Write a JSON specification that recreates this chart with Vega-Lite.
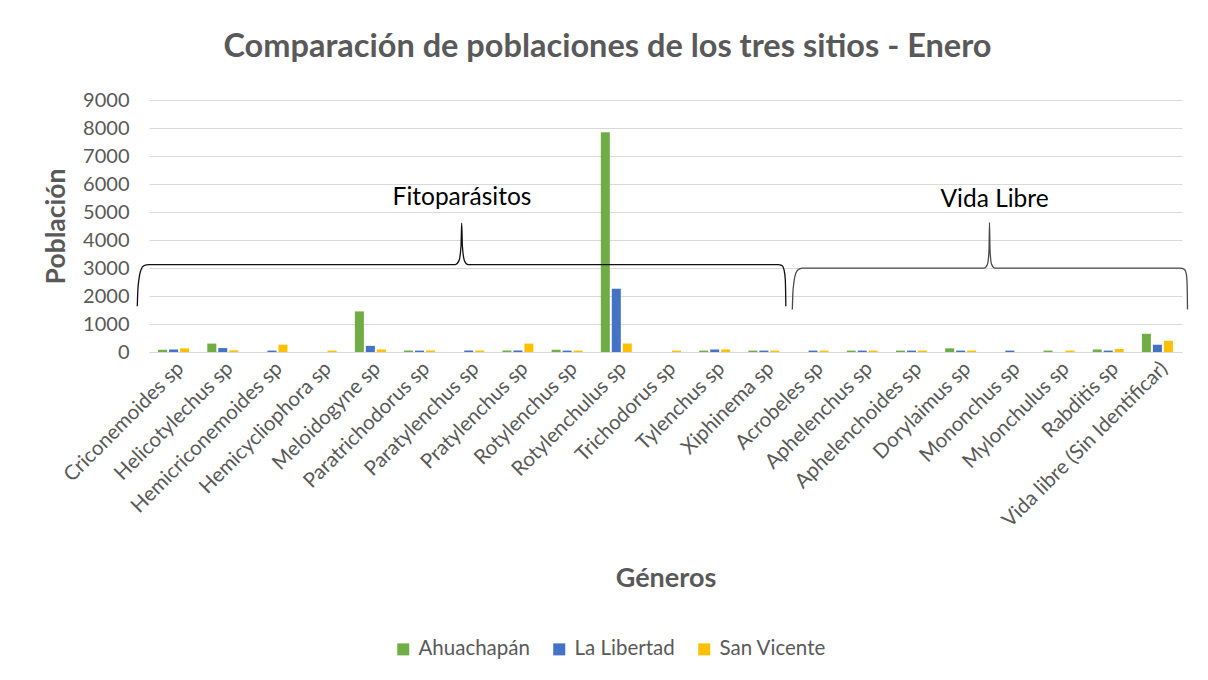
{
  "$schema": "https://vega.github.io/schema/vega-lite/v6.json",
  "width": 1033,
  "height": 252,
  "autosize": {"type": "none"},
  "padding": {"left": 149, "top": 100, "right": 26, "bottom": 328},
  "background": "white",
  "title": {
    "text": "Comparación de poblaciones de los tres sitios - Enero",
    "font": "Lato",
    "fontSize": 32.5,
    "fontWeight": "bold",
    "color": "#595959",
    "anchor": "middle",
    "dx": -58,
    "offset": 27
  },
  "datasets": {
    "bars": [
      {"genero": "Criconemoides sp", "sitio": "Ahuachapán", "poblacion": 80},
      {"genero": "Criconemoides sp", "sitio": "La Libertad", "poblacion": 90},
      {"genero": "Criconemoides sp", "sitio": "San Vicente", "poblacion": 130},
      {"genero": "Helicotylechus sp", "sitio": "Ahuachapán", "poblacion": 300},
      {"genero": "Helicotylechus sp", "sitio": "La Libertad", "poblacion": 140},
      {"genero": "Helicotylechus sp", "sitio": "San Vicente", "poblacion": 60},
      {"genero": "Hemicriconemoides sp", "sitio": "Ahuachapán", "poblacion": 0},
      {"genero": "Hemicriconemoides sp", "sitio": "La Libertad", "poblacion": 50},
      {"genero": "Hemicriconemoides sp", "sitio": "San Vicente", "poblacion": 260},
      {"genero": "Hemicycliophora sp", "sitio": "Ahuachapán", "poblacion": 0},
      {"genero": "Hemicycliophora sp", "sitio": "La Libertad", "poblacion": 0},
      {"genero": "Hemicycliophora sp", "sitio": "San Vicente", "poblacion": 50},
      {"genero": "Meloidogyne sp", "sitio": "Ahuachapán", "poblacion": 1450},
      {"genero": "Meloidogyne sp", "sitio": "La Libertad", "poblacion": 220},
      {"genero": "Meloidogyne sp", "sitio": "San Vicente", "poblacion": 90},
      {"genero": "Paratrichodorus sp", "sitio": "Ahuachapán", "poblacion": 50},
      {"genero": "Paratrichodorus sp", "sitio": "La Libertad", "poblacion": 50},
      {"genero": "Paratrichodorus sp", "sitio": "San Vicente", "poblacion": 50},
      {"genero": "Paratylenchus sp", "sitio": "Ahuachapán", "poblacion": 0},
      {"genero": "Paratylenchus sp", "sitio": "La Libertad", "poblacion": 50},
      {"genero": "Paratylenchus sp", "sitio": "San Vicente", "poblacion": 50},
      {"genero": "Pratylenchus sp", "sitio": "Ahuachapán", "poblacion": 50},
      {"genero": "Pratylenchus sp", "sitio": "La Libertad", "poblacion": 50},
      {"genero": "Pratylenchus sp", "sitio": "San Vicente", "poblacion": 300},
      {"genero": "Rotylenchus sp", "sitio": "Ahuachapán", "poblacion": 80},
      {"genero": "Rotylenchus sp", "sitio": "La Libertad", "poblacion": 50},
      {"genero": "Rotylenchus sp", "sitio": "San Vicente", "poblacion": 50},
      {"genero": "Rotylenchulus sp", "sitio": "Ahuachapán", "poblacion": 7850},
      {"genero": "Rotylenchulus sp", "sitio": "La Libertad", "poblacion": 2260},
      {"genero": "Rotylenchulus sp", "sitio": "San Vicente", "poblacion": 300},
      {"genero": "Trichodorus sp", "sitio": "Ahuachapán", "poblacion": 0},
      {"genero": "Trichodorus sp", "sitio": "La Libertad", "poblacion": 0},
      {"genero": "Trichodorus sp", "sitio": "San Vicente", "poblacion": 50},
      {"genero": "Tylenchus sp", "sitio": "Ahuachapán", "poblacion": 50},
      {"genero": "Tylenchus sp", "sitio": "La Libertad", "poblacion": 90},
      {"genero": "Tylenchus sp", "sitio": "San Vicente", "poblacion": 90},
      {"genero": "Xiphinema sp", "sitio": "Ahuachapán", "poblacion": 50},
      {"genero": "Xiphinema sp", "sitio": "La Libertad", "poblacion": 50},
      {"genero": "Xiphinema sp", "sitio": "San Vicente", "poblacion": 50},
      {"genero": "Acrobeles sp", "sitio": "Ahuachapán", "poblacion": 0},
      {"genero": "Acrobeles sp", "sitio": "La Libertad", "poblacion": 50},
      {"genero": "Acrobeles sp", "sitio": "San Vicente", "poblacion": 50},
      {"genero": "Aphelenchus sp", "sitio": "Ahuachapán", "poblacion": 50},
      {"genero": "Aphelenchus sp", "sitio": "La Libertad", "poblacion": 50},
      {"genero": "Aphelenchus sp", "sitio": "San Vicente", "poblacion": 50},
      {"genero": "Aphelenchoides sp", "sitio": "Ahuachapán", "poblacion": 50},
      {"genero": "Aphelenchoides sp", "sitio": "La Libertad", "poblacion": 50},
      {"genero": "Aphelenchoides sp", "sitio": "San Vicente", "poblacion": 50},
      {"genero": "Dorylaimus sp", "sitio": "Ahuachapán", "poblacion": 130},
      {"genero": "Dorylaimus sp", "sitio": "La Libertad", "poblacion": 50},
      {"genero": "Dorylaimus sp", "sitio": "San Vicente", "poblacion": 50},
      {"genero": "Mononchus sp", "sitio": "Ahuachapán", "poblacion": 0},
      {"genero": "Mononchus sp", "sitio": "La Libertad", "poblacion": 50},
      {"genero": "Mononchus sp", "sitio": "San Vicente", "poblacion": 0},
      {"genero": "Mylonchulus sp", "sitio": "Ahuachapán", "poblacion": 50},
      {"genero": "Mylonchulus sp", "sitio": "La Libertad", "poblacion": 0},
      {"genero": "Mylonchulus sp", "sitio": "San Vicente", "poblacion": 50},
      {"genero": "Rabditis sp", "sitio": "Ahuachapán", "poblacion": 90},
      {"genero": "Rabditis sp", "sitio": "La Libertad", "poblacion": 50},
      {"genero": "Rabditis sp", "sitio": "San Vicente", "poblacion": 110},
      {"genero": "Vida libre (Sin Identificar)", "sitio": "Ahuachapán", "poblacion": 650},
      {"genero": "Vida libre (Sin Identificar)", "sitio": "La Libertad", "poblacion": 260},
      {"genero": "Vida libre (Sin Identificar)", "sitio": "San Vicente", "poblacion": 400}
    ],
    "braces": [
      {"brace": "Fitoparásitos", "pos": -0.238, "val": 1633},
      {"brace": "Fitoparásitos", "pos": -0.228, "val": 2157},
      {"brace": "Fitoparásitos", "pos": -0.203, "val": 2620},
      {"brace": "Fitoparásitos", "pos": -0.163, "val": 2941},
      {"brace": "Fitoparásitos", "pos": -0.102, "val": 3084},
      {"brace": "Fitoparásitos", "pos": 0.0, "val": 3119},
      {"brace": "Fitoparásitos", "pos": 6.221, "val": 3119},
      {"brace": "Fitoparásitos", "pos": 6.302, "val": 3262},
      {"brace": "Fitoparásitos", "pos": 6.343, "val": 3797},
      {"brace": "Fitoparásitos", "pos": 6.357, "val": 4606},
      {"brace": "Fitoparásitos", "pos": 6.371, "val": 3797},
      {"brace": "Fitoparásitos", "pos": 6.412, "val": 3262},
      {"brace": "Fitoparásitos", "pos": 6.485, "val": 3119},
      {"brace": "Fitoparásitos", "pos": 12.793, "val": 3119},
      {"brace": "Fitoparásitos", "pos": 12.869, "val": 3084},
      {"brace": "Fitoparásitos", "pos": 12.909, "val": 2941},
      {"brace": "Fitoparásitos", "pos": 12.934, "val": 2620},
      {"brace": "Fitoparásitos", "pos": 12.942, "val": 2157},
      {"brace": "Fitoparásitos", "pos": 12.946, "val": 1633},
      {"brace": "Vida Libre", "pos": 13.078, "val": 1515},
      {"brace": "Vida Libre", "pos": 13.088, "val": 2050},
      {"brace": "Vida Libre", "pos": 13.112, "val": 2513},
      {"brace": "Vida Libre", "pos": 13.153, "val": 2834},
      {"brace": "Vida Libre", "pos": 13.214, "val": 2959},
      {"brace": "Vida Libre", "pos": 13.295, "val": 2995},
      {"brace": "Vida Libre", "pos": 16.975, "val": 2995},
      {"brace": "Vida Libre", "pos": 17.046, "val": 3137},
      {"brace": "Vida Libre", "pos": 17.077, "val": 3654},
      {"brace": "Vida Libre", "pos": 17.087, "val": 4627},
      {"brace": "Vida Libre", "pos": 17.097, "val": 3654},
      {"brace": "Vida Libre", "pos": 17.128, "val": 3137},
      {"brace": "Vida Libre", "pos": 17.199, "val": 2995},
      {"brace": "Vida Libre", "pos": 20.96, "val": 2995},
      {"brace": "Vida Libre", "pos": 21.041, "val": 2959},
      {"brace": "Vida Libre", "pos": 21.082, "val": 2834},
      {"brace": "Vida Libre", "pos": 21.102, "val": 2513},
      {"brace": "Vida Libre", "pos": 21.108, "val": 2050},
      {"brace": "Vida Libre", "pos": 21.112, "val": 1515}
    ],
    "labels": [
      {"label": "Fitoparásitos", "pos": 6.363, "val": 5508},
      {"label": "Vida Libre", "pos": 17.19, "val": 5437}
    ]
  },
  "layer": [
    {
      "data": {"name": "bars"},
      "mark": {"type": "bar"},
      "encoding": {
        "x": {
          "field": "genero",
          "type": "nominal",
          "sort": null,
          "scale": {"paddingInner": 0.37, "paddingOuter": 0.185},
          "axis": {
            "title": "Géneros",
            "titleFont": "Lato",
            "titleFontSize": 27,
            "titleFontWeight": "bold",
            "titleColor": "#595959",
            "titlePadding": 35,
            "labelAngle": -45,
            "labelFont": "Lato",
            "labelFontSize": 20.5,
            "labelColor": "#595959",
            "labelLimit": 400,
            "labelPadding": 6,
            "labelOverlap": false,
            "ticks": false,
            "domainColor": "#d9d9d9",
            "domainWidth": 1,
            "grid": false
          }
        },
        "xOffset": {
          "field": "sitio",
          "type": "nominal",
          "scale": {"paddingInner": 0.18, "paddingOuter": 0}
        },
        "y": {
          "field": "poblacion",
          "type": "quantitative",
          "scale": {"domain": [0, 9000], "nice": false},
          "axis": {
            "title": "Población",
            "titleFont": "Lato",
            "titleFontSize": 26.5,
            "titleFontWeight": "bold",
            "titleColor": "#595959",
            "titlePadding": 12,
            "values": [0, 1000, 2000, 3000, 4000, 5000, 6000, 7000, 8000, 9000],
            "format": "d",
            "labelOverlap": false,
            "labelFont": "Lato",
            "labelFontSize": 20,
            "labelColor": "#595959",
            "labelPadding": 20,
            "ticks": false,
            "domain": false,
            "grid": true,
            "gridColor": "#d9d9d9",
            "gridWidth": 1
          }
        },
        "color": {
          "field": "sitio",
          "type": "nominal",
          "scale": {
            "domain": ["Ahuachapán", "La Libertad", "San Vicente"],
            "range": ["#70AD47", "#4472C4", "#FFC000"]
          },
          "legend": {
            "title": null,
            "orient": "none",
            "direction": "horizontal",
            "legendX": 244,
            "legendY": 539,
            "symbolType": "square",
            "symbolSize": 144,
            "symbolStrokeWidth": 0,
            "labelFont": "Lato",
            "labelFontSize": 20.5,
            "labelColor": "#595959",
            "labelOffset": 5,
            "columnPadding": 19,
            "padding": 0
          }
        }
      }
    },
    {
      "data": {"name": "braces"},
      "transform": [{"filter": "datum.brace === 'Fitoparásitos'"}],
      "mark": {"type": "line", "interpolate": "monotone", "color": "#111111", "strokeWidth": 1.3},
      "encoding": {
        "x": {"field": "pos", "type": "quantitative", "scale": {"domain": [0, 21], "nice": false, "zero": false}, "axis": null},
        "y": {"field": "val", "type": "quantitative", "axis": null}
      }
    },
    {
      "data": {"name": "braces"},
      "transform": [{"filter": "datum.brace === 'Vida Libre'"}],
      "mark": {"type": "line", "interpolate": "monotone", "color": "#4a4a4a", "strokeWidth": 1.3},
      "encoding": {
        "x": {"field": "pos", "type": "quantitative", "scale": {"domain": [0, 21], "nice": false, "zero": false}, "axis": null},
        "y": {"field": "val", "type": "quantitative", "axis": null}
      }
    },
    {
      "data": {"name": "labels"},
      "mark": {"type": "text", "font": "Lato", "fontSize": 24.5, "color": "#000000", "align": "center", "baseline": "middle"},
      "encoding": {
        "x": {"field": "pos", "type": "quantitative", "scale": {"domain": [0, 21], "nice": false, "zero": false}, "axis": null},
        "y": {"field": "val", "type": "quantitative", "axis": null},
        "text": {"field": "label"}
      }
    }
  ],
  "resolve": {"scale": {"x": "independent"}, "axis": {"y": "independent"}},
  "config": {
    "font": "Lato",
    "view": {"stroke": null}
  }
}
